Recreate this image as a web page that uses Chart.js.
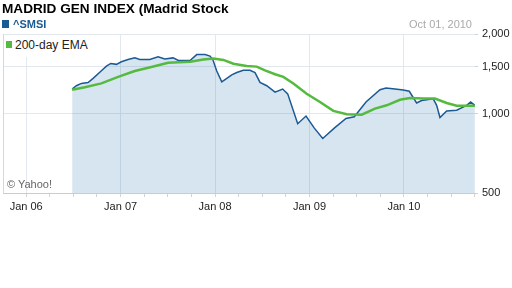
<!DOCTYPE html>
<html><head><meta charset="utf-8">
<script src="https://cdn.jsdelivr.net/npm/chart.js@4/dist/chart.umd.min.js"></script>
<style>
html,body{margin:0;padding:0;background:#fff;}
#wrap{position:relative;width:512px;height:288px;overflow:hidden;font-family:Arial,"Liberation Sans",sans-serif;}
canvas{position:absolute;left:0;top:0;}
.t{position:absolute;white-space:nowrap;line-height:1;}
</style></head><body>
<div id="wrap">
<canvas id="c" width="512" height="288"></canvas>
<div class="t" style="left:2px;top:2px;font-size:13.6px;font-weight:bold;color:#000;">MADRID GEN INDEX (Madrid Stock</div>
<div class="t" style="left:2px;top:20px;width:7px;height:8px;background:#1c5a94;"></div>
<div class="t" style="left:13px;top:19px;font-size:11px;font-weight:bold;color:#1c5a94;">^SMSI</div>
<div class="t" style="right:40px;top:19px;font-size:11px;color:#aaaaaa;">Oct 01, 2010</div>
<div class="t" style="left:4px;top:35px;width:92px;height:22px;background:#fff;"></div>
<div class="t" style="left:6px;top:41px;width:6px;height:7px;background:#55bb3e;"></div>
<div class="t" style="left:15px;top:39px;font-size:12px;color:#222;">200-day EMA</div>
<div class="t" style="left:7px;top:179px;font-size:11px;color:#666;">© Yahoo!</div>
</div>
<script>
// Data (x = decimal year)
const smsiDates  = [2006.487,2006.532,2006.585,2006.656,2006.709,2006.794,2006.850,2006.896,2006.956,2007.008,2007.079,2007.150,2007.203,2007.309,2007.397,2007.468,2007.556,2007.612,2007.735,2007.806,2007.894,2007.947,2007.976,2008.018,2008.071,2008.124,2008.177,2008.230,2008.299,2008.370,2008.423,2008.476,2008.547,2008.635,2008.716,2008.769,2008.875,2008.963,2009.051,2009.140,2009.262,2009.386,2009.474,2009.598,2009.746,2009.810,2009.905,2009.993,2010.056,2010.134,2010.187,2010.310,2010.346,2010.381,2010.452,2010.558,2010.663,2010.706,2010.751];
const smsiValues = [1238,1274,1300,1310,1358,1449,1512,1547,1535,1570,1601,1624,1601,1601,1638,1610,1624,1587,1587,1671,1671,1650,1601,1449,1318,1358,1400,1429,1457,1457,1429,1311,1274,1204,1238,1187,915,978,880,804,880,958,972,1105,1231,1248,1238,1228,1214,1096,1120,1136,1074,966,1023,1029,1074,1105,1074];
const emaDates   = [2006.487,2006.621,2006.797,2006.974,2007.150,2007.326,2007.503,2007.735,2007.876,2007.982,2008.088,2008.194,2008.335,2008.441,2008.529,2008.635,2008.723,2008.829,2008.970,2009.111,2009.252,2009.394,2009.552,2009.693,2009.817,2009.958,2010.063,2010.204,2010.328,2010.452,2010.558,2010.751];
const emaValues  = [1231,1257,1300,1376,1449,1499,1556,1570,1601,1615,1595,1543,1512,1505,1457,1408,1376,1300,1187,1105,1023,994,990,1044,1074,1127,1145,1140,1140,1096,1071,1071];
const xTickYears  = [2006,2007,2008,2009,2010];
const xTickLabels = ['Jan 06','Jan 07','Jan 08','Jan 09','Jan 10'];
const yTickValues = [500,1000,1500,2000];
const yTickLabels = ['500','1,000','1,500','2,000'];

const X_MIN = 2005.755, X_MAX = 2010.752;
const quarterTicks = [];
for (let q = 0; q <= 20; q++) quarterTicks.push(+(X_MIN + 0.245 + (q - 1) * 0.25).toFixed(3));

const isYear = v => xTickYears.some(y => Math.abs(y - v) < 1e-6);
const FONT = 'Arial, "Liberation Sans", sans-serif';

new Chart(document.getElementById('c'), {
  type: 'line',
  data: {
    datasets: [
      {
        label: '200-day EMA',
        data: emaDates.map((d, i) => ({x: d, y: emaValues[i]})),
        borderColor: '#55bb3e', borderWidth: 2.5, pointRadius: 0, fill: false, tension: 0, order: 0
      },
      {
        label: '^SMSI',
        data: smsiDates.map((d, i) => ({x: d, y: smsiValues[i]})),
        borderColor: '#1c5a94', borderWidth: 1.5, pointRadius: 0, tension: 0,
        fill: 'start', backgroundColor: 'rgba(20,100,165,0.17)', order: 1
      }
    ]
  },
  options: {
    responsive: false, animation: false, devicePixelRatio: 1,
    layout: {padding: {top: 34, left: 3, right: 0, bottom: 0}},
    plugins: {legend: {display: false}, title: {display: false}, tooltip: {enabled: false}},
    scales: {
      x: {
        type: 'linear', min: X_MIN, max: X_MAX,
        afterBuildTicks: a => { a.ticks = quarterTicks.filter(v => v >= X_MIN - 1e-6 && v <= X_MAX).map(v => ({value: v})); },
        afterFit: a => { a.height = 95; },
        ticks: {
          autoSkip: false, maxRotation: 0, padding: 3,
          color: '#222', font: {family: FONT, size: 11},
          callback: v => { const i = xTickYears.findIndex(y => Math.abs(y - v) < 1e-6); return i >= 0 ? xTickLabels[i] : ''; }
        },
        grid: {
          color: c => (c.tick && isYear(c.tick.value)) ? '#e3e8ee' : 'rgba(0,0,0,0)',
          tickColor: '#d4d4d4', tickLength: 4, lineWidth: 1
        },
        border: {display: true, color: '#cccccc'}
      },
      y: {
        type: 'logarithmic', position: 'right', min: 500, max: 2000,
        afterBuildTicks: a => { a.ticks = yTickValues.map(v => ({value: v})); },
        afterFit: a => { a.width = 37; },
        ticks: {
          padding: 4, color: '#222', font: {family: FONT, size: 11},
          callback: v => { const i = yTickValues.indexOf(v); return i >= 0 ? yTickLabels[i] : ''; }
        },
        grid: {color: c => (c.tick && c.tick.value === 500) ? '#cccccc' : '#e3e8ee', tickLength: 3, tickColor: '#d4d4d4'},
        border: {display: false}
      }
    }
  },
  plugins: [{
    id: 'leftBorder',
    beforeDatasetsDraw(chart) {
      const {ctx, chartArea: a} = chart;
      ctx.save(); ctx.strokeStyle = '#d8d8d8'; ctx.lineWidth = 1;
      ctx.beginPath(); ctx.moveTo(a.left + 0.5, a.top); ctx.lineTo(a.left + 0.5, a.bottom); ctx.stroke();
      ctx.restore();
    }
  }]
});
</script>
</body></html>
